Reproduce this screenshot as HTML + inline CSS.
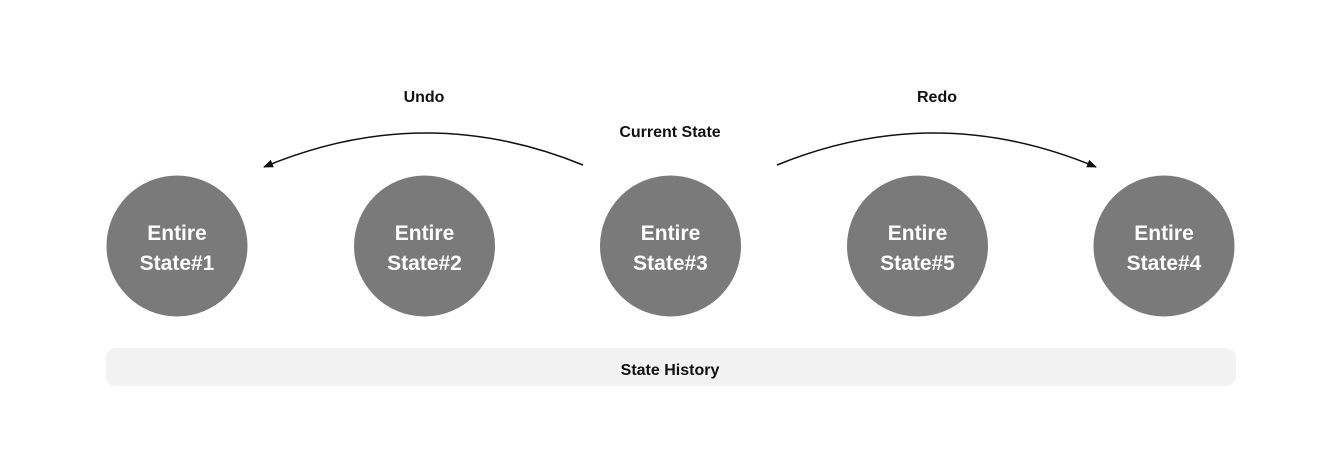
<!DOCTYPE html>
<html><head><style>
body{margin:0;background:#fff;}
svg{display:block;}
text{font-family:"Liberation Sans",Arial,sans-serif;font-weight:bold;}
</style></head><body>
<svg width="1335" height="466" viewBox="0 0 1335 466">
<defs><marker id="a" markerWidth="10" markerHeight="8" refX="9" refY="4" orient="auto" markerUnits="userSpaceOnUse"><path d="M0,0 L10,4 L0,8 Z" fill="#111"/></marker></defs>
<rect x="106" y="348" width="1130" height="38" rx="10" fill="#f2f2f2"/>
<text x="670" y="375" font-size="16" text-anchor="middle" fill="#111">State History</text>
<text x="424" y="102" font-size="16" text-anchor="middle" fill="#111">Undo</text>
<text x="937" y="102" font-size="16" text-anchor="middle" fill="#111">Redo</text>
<text x="670" y="137" font-size="16" text-anchor="middle" fill="#111">Current State</text>
<path d="M583,165 Q424,100 264,167" fill="none" stroke="#111" stroke-width="1.5" marker-end="url(#a)"/>
<path d="M777,165 Q936,100 1096,167" fill="none" stroke="#111" stroke-width="1.5" marker-end="url(#a)"/>
<g fill="#7a7a7a">
<circle cx="177" cy="246" r="70.5"/><circle cx="424.5" cy="246" r="70.5"/><circle cx="670.5" cy="246" r="70.5"/><circle cx="917.5" cy="246" r="70.5"/><circle cx="1164" cy="246" r="70.5"/>
</g>
<g fill="#fff" font-size="21" text-anchor="middle">
<text x="177" y="240">Entire</text><text x="177" y="270">State#1</text>
<text x="424.5" y="240">Entire</text><text x="424.5" y="270">State#2</text>
<text x="670.5" y="240">Entire</text><text x="670.5" y="270">State#3</text>
<text x="917.5" y="240">Entire</text><text x="917.5" y="270">State#5</text>
<text x="1164" y="240">Entire</text><text x="1164" y="270">State#4</text>
</g>
</svg>
</body></html>
